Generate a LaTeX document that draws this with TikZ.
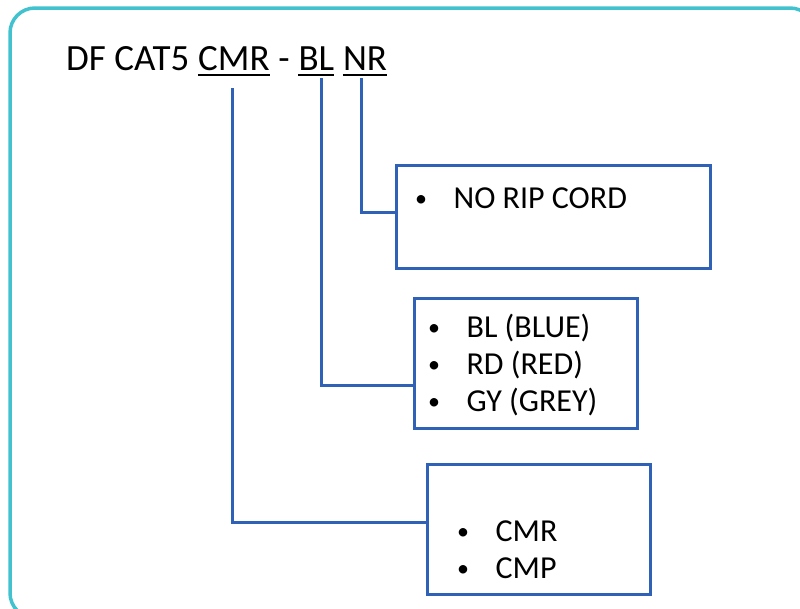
\documentclass[tikz,border=0pt]{standalone}
\usepackage{fontspec}
\setmainfont{Carlito}
\usetikzlibrary{positioning}

\definecolor{frameteal}{RGB}{66,194,206}
\definecolor{boxblue}{RGB}{47,98,183}
\newcommand{\itm}{\makebox[1.2em][l]{\raisebox{1.8pt}{\fontsize{24}{24}\selectfont\textbullet}}}

\begin{document}
\begin{tikzpicture}[x=1pt,y=-1pt,
  frame/.style={draw=frameteal,line width=3.5pt,rounded corners=25pt},
  word/.style={inner sep=0pt,font=\fontsize{37}{40}\selectfont},
  uline/.style={line width=2pt},
  listbox/.style={draw=boxblue,line width=3pt,inner sep=0pt},
  link/.style={draw=boxblue,line width=3pt},
  item/.style={anchor=west,align=left,inner sep=0pt,font=\fontsize{32}{37}\selectfont}]
\clip (0,0) rectangle (800,608);
\draw[frame] (10,8) rectangle (815,618);

% the part code
\node[word,anchor=base west] (df) at (66,70) {DF CAT5};
\node[word,base right=8.4pt of df] (cmr) {CMR};
\node[word,base right=8.4pt of cmr] (dash) {-};
\node[word,base right=8.4pt of dash] (bl) {BL};
\node[word,base right=8.4pt of bl] (nr) {NR};
\foreach \w in {cmr,bl,nr}
  \draw[uline] ([yshift=-5pt]\w.base west) -- ([yshift=-5pt]\w.base east);

% option boxes
\node[listbox,minimum width=314pt,minimum height=103pt] (ripbox) at (553,216.5) {};
\node[item] (rip) at (415,198) {\itm NO RIP CORD};
\node[listbox,minimum width=223pt,minimum height=130pt] (colbox) at (525.5,363) {};
\node[item] (col) at (428,365) {\itm BL (BLUE)\\ \itm RD (RED)\\ \itm GY (GREY)};
\node[listbox,minimum width=223pt,minimum height=130pt] (typbox) at (538.5,529) {};
\node[item] (typ) at (457,550) {\itm CMR\\ \itm CMP};

% connectors
\coordinate (cmrtop) at (232,88);
\coordinate (bltop) at (321,78);
\coordinate (nrtop) at (361,78);
\draw[link] (nrtop) |- ([yshift=4.5pt]ripbox.west);
\draw[link] (bltop) |- ([yshift=-22pt]colbox.west);
\draw[link] (cmrtop) |- ([yshift=7pt]typbox.west);
\end{tikzpicture}
\end{document}
